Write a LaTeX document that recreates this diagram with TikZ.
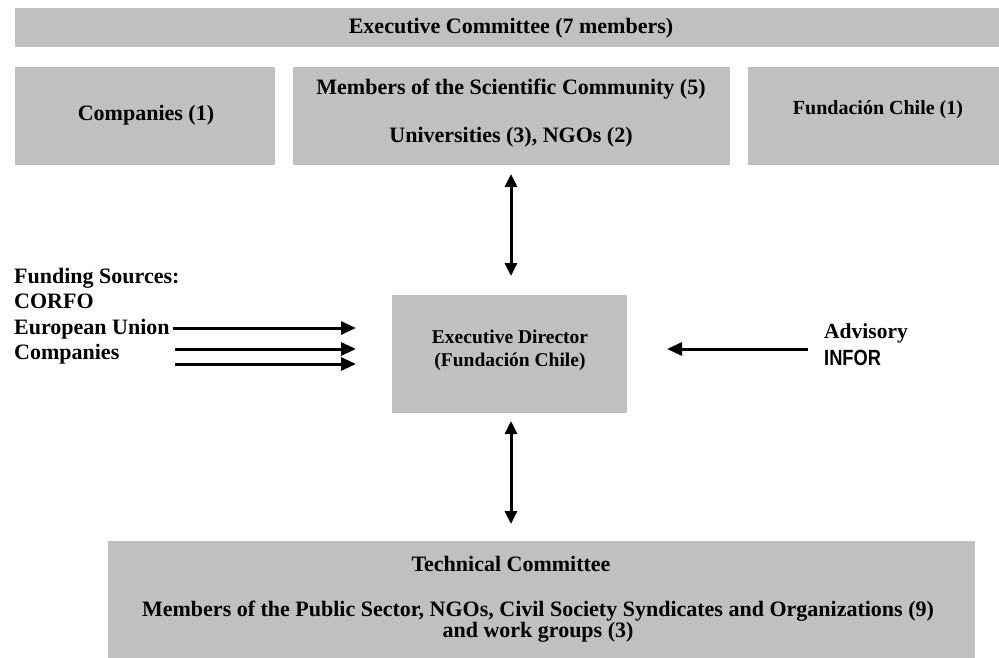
\documentclass[tikz,border=0pt]{standalone}
\usepackage{fontspec}
\setmainfont{Liberation Serif}
\newfontfamily\arialfont[FakeStretch=0.83]{Liberation Sans}
\usetikzlibrary{arrows.meta}
\definecolor{boxgray}{HTML}{C0C0C0}
\begin{document}
\begin{tikzpicture}[x=1pt,y=-1pt,
  graybox/.style={fill=boxgray,draw=none,inner sep=0pt},
  boxtext/.style={font=\bfseries\fontsize{22}{21}\selectfont,inner sep=0pt,anchor=center},
  dirtext/.style={font=\bfseries\fontsize{19.5}{23}\selectfont,inner sep=0pt,anchor=center},
  sidetext/.style={font=\bfseries\fontsize{22}{25}\selectfont,inner sep=0pt,anchor=base west},
  arr/.style={line width=3pt,-{Triangle[length=15pt,width=13pt]}},
  darr/.style={line width=3pt,{Triangle[length=13pt,width=12pt]}-{Triangle[length=13pt,width=12pt]}}]
\useasboundingbox (0,0) rectangle (999,658);
% boxes
\node[graybox,minimum width=984pt,minimum height=39pt] (exec) at (507,27.5) {};
\node[graybox,minimum width=260pt,minimum height=98pt] (comp) at (145,116) {};
\node[graybox,minimum width=437pt,minimum height=98pt] (sci) at (511.5,116) {};
\node[graybox,minimum width=251pt,minimum height=98pt] (fund) at (873.5,116) {};
\node[graybox,minimum width=235pt,minimum height=118pt] (dir) at (509.5,354) {};
\node[graybox,minimum width=867pt,minimum height=117pt] (tech) at (541.5,599.5) {};
% texts
\node[boxtext] (t1) at (511,28) {Executive Committee (7 members)};
\node[boxtext] (t2) at (146,115) {Companies (1)};
\node[boxtext] (t3) at (511,89) {Members of the Scientific Community (5)};
\node[boxtext] (t4) at (511,137) {Universities (3), NGOs (2)};
\node[font=\bfseries\fontsize{20}{22}\selectfont,inner sep=0pt] (t5) at (878,110) {Fundación Chile (1)};
\node[dirtext,align=center] (t6) at (510,350) {Executive Director\\(Fundación Chile)};
\node[boxtext] (t7) at (511,564) {Technical Committee};
\node[boxtext,align=center] (t8) at (538,622) {Members of the Public Sector, NGOs, Civil Society Syndicates and Organizations (9)\\and work groups (3)};
% side texts
\node[sidetext] (f1) at (14,283) {Funding Sources:};
\node[sidetext] (f2) at (14,308) {CORFO};
\node[sidetext] (f3) at (14,334) {European Union};
\node[sidetext] (f4) at (14,359) {Companies};
\node[font=\bfseries\fontsize{21.5}{24}\selectfont,inner sep=0pt,anchor=base west] (a1) at (824,338) {Advisory};
\node[font=\arialfont\bfseries\fontsize{22}{24}\selectfont,inner sep=0pt,anchor=base west] (a2) at (824,365) {INFOR};
% connector coordinates
\coordinate (s1) at (173,328);
\coordinate (e1) at (356,328);
\coordinate (s2) at (175,349);
\coordinate (e2) at (356,349);
\coordinate (s3) at (175,364);
\coordinate (e3) at (356,364);
\coordinate (r1) at (808,349);
\coordinate (r2) at (667,349);
\coordinate (u1) at (511,174);
\coordinate (u2) at (511,276);
\coordinate (d1) at (511,421);
\coordinate (d2) at (511,524);
\draw[arr] (s1) -- (e1);
\draw[arr] (s2) -- (e2);
\draw[arr] (s3) -- (e3);
\draw[arr] (r1) -- (r2);
\draw[darr] (u1) -- (u2);
\draw[darr] (d1) -- (d2);
\end{tikzpicture}
\end{document}
